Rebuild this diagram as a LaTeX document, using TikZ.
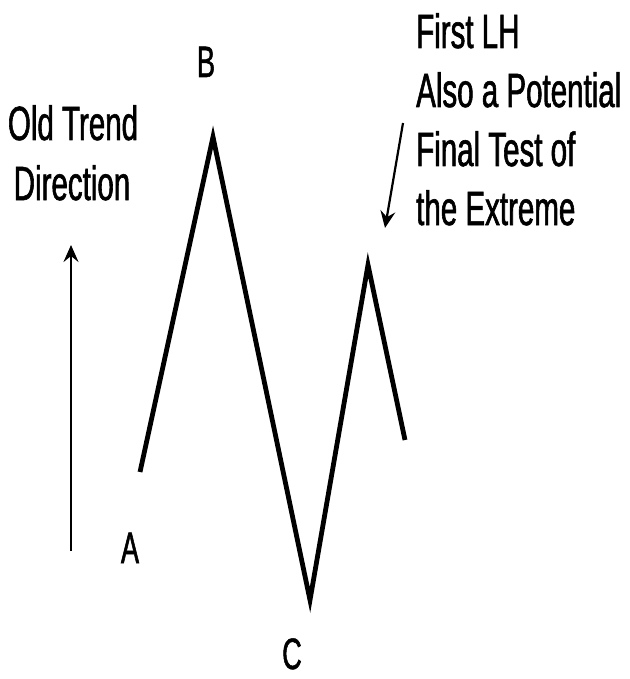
\documentclass[tikz,border=0pt]{standalone}
\usepackage{fontspec}
\setmainfont[FakeStretch=0.615,FakeBold=1.2]{Liberation Sans}
\usetikzlibrary{arrows.meta}
\begin{document}
\begin{tikzpicture}[x=1pt,y=-1pt,
  lbl/.style={inner sep=0pt,anchor=base,font=\fontsize{44}{48}\selectfont},
  txt/.style={inner sep=0pt,font=\fontsize{48}{52}\selectfont},
  wave/.style={line width=4.8pt,line join=miter,line cap=butt},
  thinarrow/.style={line width=2.2pt,-{Stealth[length=17pt,width=15pt,inset=6pt]}}]
\useasboundingbox[fill=white] (0,0) rectangle (629,679);
\coordinate (p0) at (140,472);
\coordinate (pB) at (213,137);
\coordinate (pC) at (310,600);
\coordinate (pD) at (368,265);
\coordinate (p4) at (405,440);
\draw[wave] (p0) -- (pB) -- (pC) -- (pD) -- (p4);
\node[lbl] (A) at (130,563) {A};
\node[lbl] (B) at (206,77) {B};
\node[lbl] (C) at (292,669) {C};
\node[txt,anchor=base] (old1) at (73,140) {Old Trend};
\node[txt,anchor=base] (old2) at (72,200) {Direction};
\coordinate (o1) at (71,551);
\coordinate (o2) at (71,245);
\draw[thinarrow] (o1) -- (o2);
\node[txt,anchor=base west] (f1t) at (416,48) {First LH};
\node[txt,anchor=base west] (f2t) at (416,107) {Also a Potential};
\node[txt,anchor=base west] (f3t) at (416,166) {Final Test of};
\node[txt,anchor=base west] (f4t) at (416,225) {the Extreme};
\coordinate (f1) at (403,123);
\coordinate (f2) at (385,228);
\draw[thinarrow] (f1) -- (f2);
\end{tikzpicture}
\end{document}
